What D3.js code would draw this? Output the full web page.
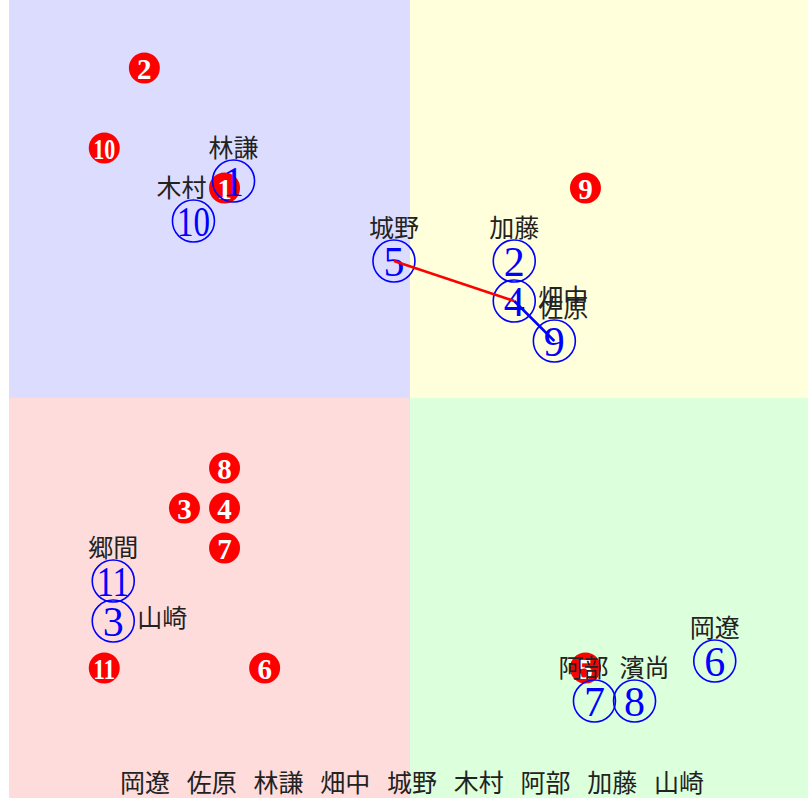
<html>
<head>
<script src="https://d3js.org/d3.v7.min.js"></script>
</head>
<body style="margin:0">
<div id="chart"></div>
<script>
// blue circled numbers (people) : grid cell + name
var blueNums = [1, 2, 3, 4, 5, 6, 7, 8, 9, 10, 11];
var blueNames = ["林謙", "加藤", "山崎", "畑中", "城野", "岡遼", "阿部", "濱尚", "佐原", "木村", "郷間"];
var blueCol = [5, 12, 2, 12, 9, 17, 14, 15, 13, 4, 2];
var blueRow = [4, 6, 15, 7, 6, 16, 17, 17, 8, 5, 14];

// red filled numbers
var redNums = [1, 2, 3, 4, 5, 6, 7, 8, 9, 10, 11];
var redCol = [5, 3, 4, 5, 14, 6, 5, 5, 14, 2, 2];
var redRow = [4, 1, 12, 12, 16, 16, 13, 11, 4, 3, 16];

// routes between blue numbers
var redRoute = [5, 4];
var blueRoute = [4, 9];

// bottom name list
var bottomNames = ["岡遼", "佐原", "林謙", "畑中", "城野", "木村", "阿部", "加藤", "山崎"];

var quads = [
    {c: 0, r: 0, fill: "#dcdcff"},
    {c: 1, r: 0, fill: "#ffffdc"},
    {c: 0, r: 1, fill: "#ffdcdc"},
    {c: 1, r: 1, fill: "#dcffdc"}
];

// label placement: right-side labels and small horizontal nudges
var rightLabel = {3: true, 4: true};
var labelDx = {9: 9, 10: -12, 7: -11, 8: 10};

var W = 808, H = 798;
var svg = d3.select("#chart").append("svg")
    .attr("width", W).attr("height", H);

var x = d3.scaleBand().domain(d3.range(20)).range([9, 811]);
var y = d3.scaleBand().domain(d3.range(20)).range([-2, 798]);
var hx = d3.scaleBand().domain([0, 1]).range([9, 811]);
var hy = d3.scaleBand().domain([0, 1]).range([-2, 798]);

svg.selectAll("rect.q").data(quads).enter().append("rect")
    .attr("x", d => hx(d.c)).attr("y", d => Math.max(0, hy(d.r)))
    .attr("width", hx.bandwidth())
    .attr("height", d => hy.bandwidth() + Math.min(0, hy(d.r)))
    .attr("fill", d => d.fill);

var cx = c => x(c) + x.bandwidth() / 2;
var cy = r => y(r) + y.bandwidth() / 2;

var blue = blueNums.map((n, i) => ({n: n, name: blueNames[i], x: cx(blueCol[i]) + 4, y: cy(blueRow[i]) + 3}));
var red = redNums.map((n, i) => ({n: n, x: cx(redCol[i]) - 5, y: cy(redRow[i]) + 10}));

// red filled numbers
var rg = svg.append("g").selectAll("g").data(red).enter().append("g");
rg.append("circle")
    .attr("cx", d => d.x).attr("cy", d => d.y).attr("r", 15.5)
    .attr("fill", "#ff0000");
rg.append("text")
    .attr("x", d => d.x).attr("y", d => d.y + 1)
    .attr("text-anchor", "middle")
    .attr("dominant-baseline", "central")
    .style("font-family", "Liberation Serif, serif")
    .style("font-weight", "bold")
    .style("font-size", "29px")
    .attr("fill", "white")
    .each(function(d) { if (d.n > 9) d3.select(this).attr("textLength", 22).attr("lengthAdjust", "spacingAndGlyphs"); })
    .text(d => d.n);

// blue circled numbers
var bg = svg.append("g").selectAll("g").data(blue).enter().append("g");
bg.append("circle")
    .attr("cx", d => d.x).attr("cy", d => d.y).attr("r", 21)
    .attr("fill", "none").attr("stroke", "#0000ff").attr("stroke-width", 1.6);
bg.append("text")
    .attr("x", d => d.x).attr("y", d => d.y + 1)
    .attr("text-anchor", "middle")
    .attr("dominant-baseline", "central")
    .style("font-family", "Liberation Serif, serif")
    .style("font-size", "42px")
    .attr("fill", "#0000ff")
    .each(function(d) { if (d.n > 9) d3.select(this).attr("textLength", 33).attr("lengthAdjust", "spacingAndGlyphs"); })
    .text(d => d.n);

// route lines
var byNum = {};
blue.forEach(d => byNum[d.n] = d);
var line = d3.line().x(d => byNum[d].x).y(d => byNum[d].y);
svg.append("path").attr("d", line(redRoute))
    .attr("fill", "none").attr("stroke", "#ff0000").attr("stroke-width", 2.5);
svg.append("path").attr("d", line(blueRoute))
    .attr("fill", "none").attr("stroke", "#0000ff").attr("stroke-width", 2.5);

// name labels
svg.append("g").selectAll("text").data(blue).enter().append("text")
    .attr("x", d => rightLabel[d.n] ? d.x + 24 : d.x + (labelDx[d.n] || 0))
    .attr("y", d => rightLabel[d.n] ? d.y + 6 : d.y - 24)
    .attr("text-anchor", d => rightLabel[d.n] ? "start" : "middle")
    .style("font-family", "Noto Sans CJK JP, sans-serif")
    .style("font-size", "25px")
    .attr("fill", "#222")
    .text(d => d.name);

// bottom list
var bx = d3.scalePoint().domain(bottomNames).range([145, 679]);
svg.append("g").selectAll("text").data(bottomNames).enter().append("text")
    .attr("x", d => bx(d)).attr("y", 792)
    .attr("text-anchor", "middle")
    .style("font-family", "Noto Sans CJK JP, sans-serif")
    .style("font-size", "25px")
    .attr("fill", "#222")
    .text(d => d);
</script>
</body>
</html>
